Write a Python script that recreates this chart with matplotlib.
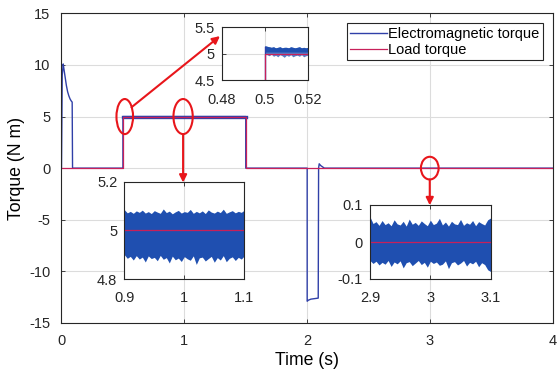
import numpy as np
import matplotlib
matplotlib.use('Agg')
import matplotlib.pyplot as plt
from matplotlib.patches import Ellipse

plt.rcParams['font.family'] = ['Liberation Sans', 'DejaVu Sans']
plt.rcParams['axes.unicode_minus'] = False

# main traces
t_em = [0, 0.006, 0.014, 0.02, 0.03, 0.04, 0.05, 0.06, 0.07, 0.08, 0.087, 0.09,
        0.5, 0.5, 1.5, 1.5, 2.0, 2.0, 2.01, 2.03, 2.06, 2.09, 2.093, 2.098, 2.11, 2.14, 4.0]
em = [0, 9.0, 10.1, 9.6, 8.8, 8.0, 7.4, 7.0, 6.7, 6.5, 6.4, 0,
      0, 5.0, 5.0, 0, 0, -12.9, -12.8, -12.7, -12.65, -12.6, 0, 0.42, 0.25, 0, 0]
t_load = [0, 0.5, 0.5, 1.5, 1.5, 4.0]
load = [0, 0, 5, 5, 0, 0]

# zoom 1: 0.48..0.52
z1_t = np.linspace(0.5, 0.52, 21)
z1_up = [5.15, 5.14, 5.13, 5.12, 5.13, 5.11, 5.12, 5.13, 5.11, 5.12, 5.12,
         5.11, 5.13, 5.12, 5.11, 5.12, 5.13, 5.11, 5.12, 5.11, 5.12]
z1_lo = [5.02, 4.98, 4.96, 4.99, 4.95, 4.97, 4.94, 4.98, 4.96, 4.93, 4.97,
         4.95, 4.98, 4.94, 4.96, 4.97, 4.95, 4.98, 4.94, 4.96, 4.97]

# zoom 2: 0.9..1.1
z2_t = np.linspace(0.9, 1.1, 41)
z2_up = [5.085, 5.072, 5.078, 5.07, 5.08, 5.074, 5.083, 5.071, 5.077, 5.069, 5.081,
         5.075, 5.07, 5.088, 5.073, 5.079, 5.068, 5.076, 5.082, 5.071, 5.077, 5.074,
         5.086, 5.07, 5.078, 5.072, 5.08, 5.069, 5.084, 5.075, 5.071, 5.079, 5.073,
         5.087, 5.07, 5.076, 5.081, 5.072, 5.078, 5.074, 5.083]
z2_lo = [4.9, 4.885, 4.893, 4.878, 4.896, 4.882, 4.89, 4.87, 4.895, 4.884, 4.889,
         4.875, 4.897, 4.881, 4.888, 4.866, 4.894, 4.879, 4.886, 4.872, 4.892, 4.883,
         4.877, 4.895, 4.86, 4.887, 4.89, 4.874, 4.884, 4.893, 4.869, 4.888, 4.878,
         4.896, 4.871, 4.885, 4.891, 4.876, 4.889, 4.882, 4.895]

# zoom 3: 2.9..3.1
z3_t = np.linspace(2.9, 3.1, 41)
z3_up = [0.068, 0.05, 0.055, 0.045, 0.058, 0.047, 0.052, 0.044, 0.06, 0.049, 0.046,
         0.056, 0.043, 0.062, 0.048, 0.053, 0.045, 0.057, 0.05, 0.044, 0.059, 0.047,
         0.051, 0.064, 0.046, 0.054, 0.043, 0.056, 0.049, 0.047, 0.061, 0.045, 0.052,
         0.048, 0.058, 0.044, 0.055, 0.05, 0.046, 0.06, 0.065]
z3_lo = [-0.05, -0.058, -0.052, -0.062, -0.055, -0.06, -0.05, -0.066, -0.054, -0.059,
         -0.051, -0.07, -0.056, -0.053, -0.064, -0.057, -0.05, -0.061, -0.055, -0.068,
         -0.052, -0.058, -0.054, -0.063, -0.06, -0.051, -0.072, -0.056, -0.053, -0.062,
         -0.057, -0.05, -0.065, -0.055, -0.059, -0.052, -0.067, -0.056, -0.061, -0.075, -0.08]

c_em = '#3040a8'
c_band = '#1f4fb0'
c_load = '#c8205a'
c_red = '#e8161b'
c_grid = '#dcdcdc'


def style(ax, fs=10.5, xpad=7, ypad=5):
    ax.grid(True, color=c_grid, linewidth=0.8)
    ax.set_axisbelow(True)
    ax.tick_params(direction='in', top=True, right=True, labelsize=fs,
                   colors='#262626', length=3, width=0.6)
    ax.tick_params(axis='x', pad=xpad)
    ax.tick_params(axis='y', pad=ypad)
    for s in ax.spines.values():
        s.set_color('#262626')
        s.set_linewidth(0.8)


fig = plt.figure(figsize=(5.59, 3.83), dpi=100)
ax = fig.add_axes([0.110, 0.157, 0.879, 0.808])
style(ax, xpad=8, ypad=8)
ax.plot(t_em, em, color=c_em, lw=1.0, label='Electromagnetic torque')
ax.plot([0.5, 1.5], [5, 5], color=c_em, lw=2.4)
ax.plot(t_load, load, color=c_load, lw=0.9, label='Load torque')
ax.set_xlim(0, 4)
ax.set_ylim(-15, 15)
ax.set_xticks([0, 1, 2, 3, 4])
ax.set_yticks([-15, -10, -5, 0, 5, 10, 15])
ax.set_xlabel('Time (s)', fontsize=12.7, labelpad=3)
ax.set_ylabel('Torque (N m)', fontsize=12.7, labelpad=3)

leg = ax.legend(loc='upper right', bbox_to_anchor=(543 / 559, 1 - 23 / 383),
                bbox_transform=fig.transFigure, fontsize=10.5, fancybox=False,
                framealpha=1, edgecolor='#262626', borderpad=0.25,
                labelspacing=0.15, handlelength=2.5, handletextpad=0.1,
                borderaxespad=0)
leg.get_frame().set_linewidth(0.8)

# ellipses + arrows
for (cx, cy, w, h) in [(0.515, 5.0, 0.135, 3.4), (0.99, 5.0, 0.157, 3.4), (2.998, 0.0, 0.144, 2.2)]:
    ax.add_patch(Ellipse((cx, cy), w, h, fill=False, edgecolor=c_red, lw=1.5, zorder=5))

arw = dict(arrowstyle='-|>', color=c_red, lw=1.5, mutation_scale=11, shrinkA=0, shrinkB=0)
ax.annotate('', xy=(1.29, 12.8), xytext=(0.57, 5.9), arrowprops=arw, zorder=6)
ax.annotate('', xy=(0.99, -1.4), xytext=(0.99, 3.3), arrowprops=arw, zorder=6)
ax.annotate('', xy=(2.998, -3.6), xytext=(2.998, -1.1), arrowprops=arw, zorder=6)

# inset 1
a1 = fig.add_axes([221.7 / 559, 1 - 80 / 383, 86.3 / 559, 52.7 / 383])
style(a1, xpad=9)
a1.fill_between(z1_t, z1_lo, z1_up, color=c_band, lw=0, alpha=0.75)
a1.fill_between(z1_t, [5.03] * len(z1_t), z1_up, color=c_band, lw=0)
a1.plot([0.48, 0.5, 0.5], [0, 0, 5.12], color=c_em, lw=1.0)
a1.plot([0.48, 0.5, 0.5, 0.52], [0, 0, 5, 5], color=c_load, lw=0.9)
a1.set_xlim(0.48, 0.52)
a1.set_ylim(4.5, 5.5)
a1.set_xticks([0.48, 0.5, 0.52])
a1.set_xticklabels(['0.48', '0.5', '0.52'])
a1.set_yticks([4.5, 5, 5.5])
a1.set_yticklabels(['4.5', '5', '5.5'])

# inset 2
a2 = fig.add_axes([124.3 / 559, 1 - 279 / 383, 120 / 559, 97.3 / 383])
style(a2, xpad=9)
a2.fill_between(z2_t, z2_lo, z2_up, color=c_band, lw=0)
a2.plot([0.9, 1.1], [5, 5], color=c_load, lw=0.9)
a2.set_xlim(0.9, 1.1)
a2.set_ylim(4.8, 5.2)
a2.set_xticks([0.9, 1, 1.1])
a2.set_xticklabels(['0.9', '1', '1.1'])
a2.set_yticks([4.8, 5, 5.2])
a2.set_yticklabels(['4.8', '5', '5.2'])

# inset 3
a3 = fig.add_axes([370 / 559, 1 - 279 / 383, 120.7 / 559, 74 / 383])
style(a3, xpad=9)
a3.fill_between(z3_t, z3_lo, z3_up, color=c_band, lw=0)
a3.plot([2.9, 3.1], [0, 0], color=c_load, lw=0.9)
a3.set_xlim(2.9, 3.1)
a3.set_ylim(-0.1, 0.1)
a3.set_xticks([2.9, 3, 3.1])
a3.set_xticklabels(['2.9', '3', '3.1'])
a3.set_yticks([-0.1, 0, 0.1])
a3.set_yticklabels(['-0.1', '0', '0.1'])

fig.savefig('out.png', dpi=100)
